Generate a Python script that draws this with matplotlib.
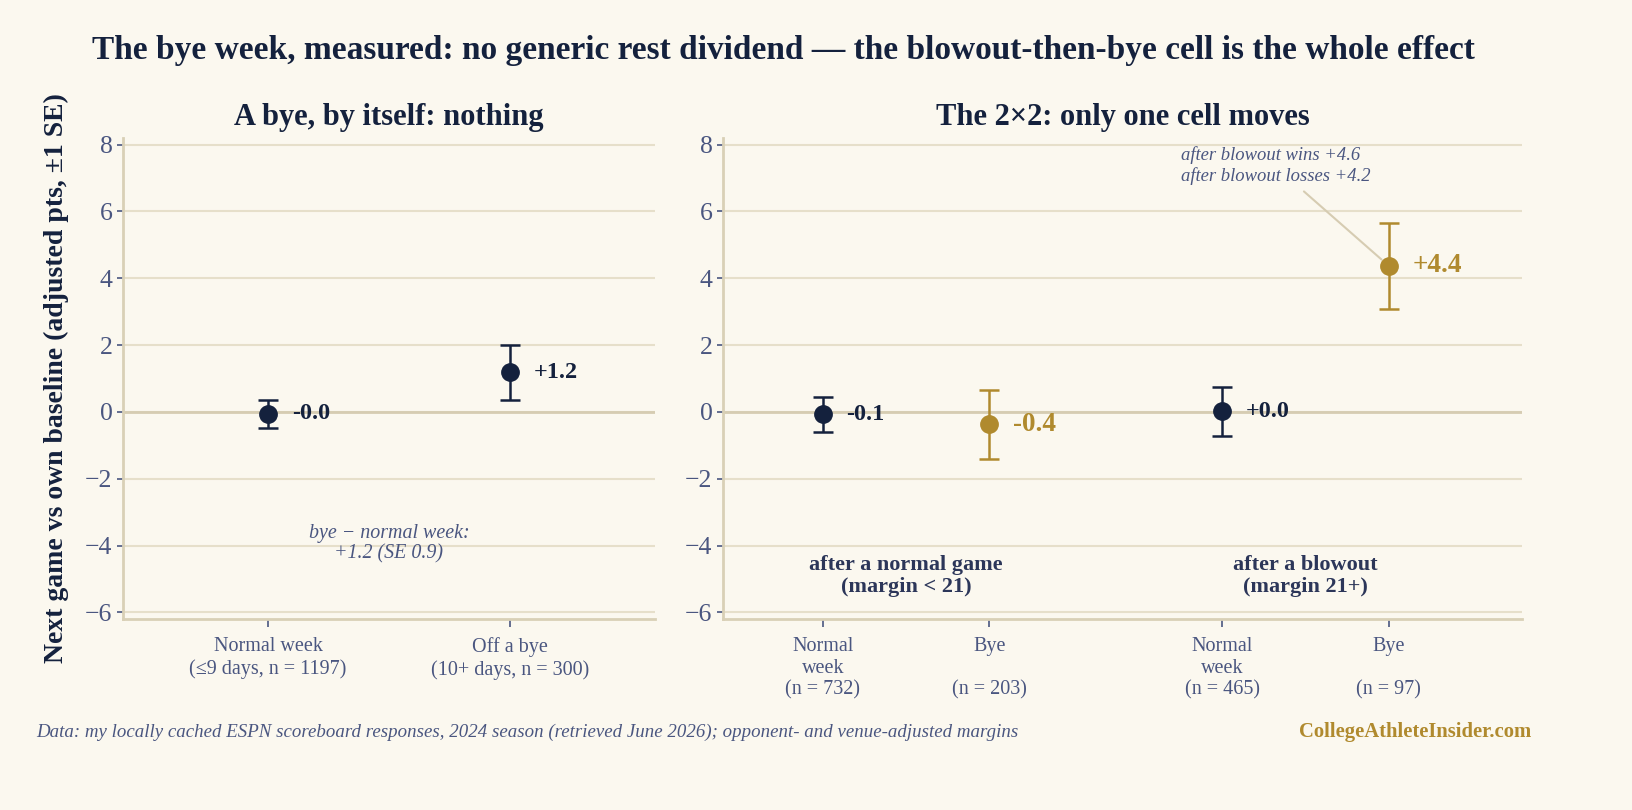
import matplotlib
matplotlib.use("Agg")
import matplotlib.pyplot as plt
import numpy as np

plt.rcParams['font.family'] = ['Liberation Serif', 'DejaVu Serif']

BG = '#fbf8ef'
NAVY = '#14213d'
GOLD = '#b08a2e'
GRID = '#e6dfca'
SPINE = '#d9d0b6'
TICK = '#4a5680'
MUTED = '#2c3659'

# left panel: bye vs normal week
left_labels = ['Normal week\n(≤9 days, n = 1197)', 'Off a bye\n(10+ days, n = 300)']
left_mean = [-0.05, 1.18]
left_se = [0.42, 0.82]
left_text = ['-0.0', '+1.2']

# right panel: 2x2
right_labels = ['Normal\nweek\n(n = 732)', 'Bye\n\n(n = 203)', 'Normal\nweek\n(n = 465)', 'Bye\n\n(n = 97)']
right_pos = [0, 1, 2.4, 3.4]
right_mean = [-0.07, -0.37, 0.02, 4.37]
right_se = [0.53, 1.03, 0.73, 1.29]
right_text = ['-0.1', '-0.4', '+0.0', '+4.4']
right_is_bye = [False, True, False, True]
groups = ['after a normal game\n(margin < 21)', 'after a blowout\n(margin 21+)']

W, H = 1633, 810
fig = plt.figure(figsize=(W / 100, H / 100), dpi=100, facecolor=BG)
axL = fig.add_axes([123 / W, 191 / H, 532 / W, 481 / H])
axR = fig.add_axes([723 / W, 191 / H, 799 / W, 481 / H])


def style(ax):
    ax.set_facecolor(BG)
    ax.set_ylim(-6.2, 8.2)
    ax.set_yticks([-6, -4, -2, 0, 2, 4, 6, 8])
    ax.set_yticklabels(['−6', '−4', '−2', '0', '2', '4', '6', '8'])
    ax.grid(axis='y', color=GRID, lw=1.5, zorder=0)
    ax.axhline(0, color='#d6ccb2', lw=2, zorder=1)
    for s in ['top', 'right']:
        ax.spines[s].set_visible(False)
    for s in ['left', 'bottom']:
        ax.spines[s].set_color(SPINE)
        ax.spines[s].set_linewidth(2)
    ax.tick_params(axis='y', colors=TICK, labelsize=18.5, length=4, width=1.2)
    ax.tick_params(axis='x', colors=TICK, labelsize=14.5, length=6, width=1.2, pad=7)
    ax.set_axisbelow(True)


style(axL)
style(axR)

# left points
for i, (m, se, t) in enumerate(zip(left_mean, left_se, left_text)):
    axL.errorbar(i, m, yerr=se, fmt='o', color=NAVY, ms=12.5, elinewidth=1.8,
                 capsize=7, capthick=1.8, zorder=3)
    axL.annotate(t, (i, m), xytext=(17, 0), textcoords='offset points',
                 va='center', ha='left', fontsize=17.5, fontweight='bold', color=NAVY)
axL.set_xlim(-0.6, 1.6)
axL.set_xticks([0, 1])
axL.set_xticklabels(left_labels, linespacing=1.2)
axL.text(0.5, -3.94, 'bye − normal week:\n+1.2 (SE 0.9)', ha='center', va='center',
         fontsize=14.4, style='italic', color=TICK, linespacing=1.1)
axL.set_title('A bye, by itself: nothing', fontsize=22, fontweight='bold',
              color=NAVY, pad=9)
axL.set_ylabel('Next game vs own baseline (adjusted pts, ±1 SE)', fontsize=20,
               fontweight='bold', color=NAVY, labelpad=12)

# right points
for p, m, se, t, bye in zip(right_pos, right_mean, right_se, right_text, right_is_bye):
    c = GOLD if bye else NAVY
    axR.errorbar(p, m, yerr=se, fmt='o', color=c, ms=12.5, elinewidth=1.8,
                 capsize=7, capthick=1.8, zorder=3)
    axR.annotate(t, (p, m), xytext=(17, 0), textcoords='offset points',
                 va='center', ha='left', fontsize=19.5 if bye else 17.5,
                 fontweight='bold', color=c)
axR.set_xlim(-0.6, 4.2)
axR.set_xticks(right_pos)
axR.set_xticklabels(right_labels, linespacing=1.2)
axR.text(0.5, -4.92, groups[0], ha='center', va='center', fontsize=16,
         fontweight='bold', color=MUTED, linespacing=1.1)
axR.text(2.9, -4.92, groups[1], ha='center', va='center', fontsize=16,
         fontweight='bold', color=MUTED, linespacing=1.1)
axR.text(2.15, 7.38, 'after blowout wins +4.6\nafter blowout losses +4.2',
         fontsize=13.4, style='italic', color=TICK, ha='left', va='center',
         linespacing=1.2)
axR.annotate('', xy=(right_pos[3], right_mean[3]), xytext=(2.89, 6.6),
             arrowprops=dict(arrowstyle='-', color='#d6ccb2', lw=1.5,
                             shrinkA=0, shrinkB=7))
axR.set_title('The 2×2: only one cell moves', fontsize=22, fontweight='bold',
              color=NAVY, pad=9)

fig.text(783 / W, 1 - 50 / H, 'The bye week, measured: no generic rest dividend — the blowout-then-bye cell is the whole effect',
         ha='center', va='center', fontsize=24, fontweight='bold', color=NAVY)
fig.text(36 / W, 1 - 732 / H, 'Data: my locally cached ESPN scoreboard responses, 2024 season (retrieved June 2026); opponent- and venue-adjusted margins',
         ha='left', va='center', fontsize=13.6, style='italic', color=TICK)
fig.text(1531 / W, 1 - 732 / H, 'CollegeAthleteInsider.com', ha='right', va='center',
         fontsize=14.9, fontweight='bold', color=GOLD)

fig.savefig('out.png', dpi=100, facecolor=BG)
